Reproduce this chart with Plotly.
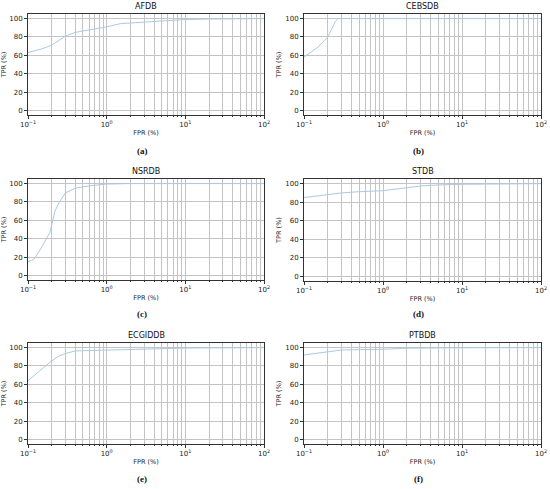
import plotly.graph_objects as go

# ROC curves (FPR %, TPR %)
afdb_fpr = [0.1, 0.15, 0.2, 0.3, 0.4, 0.6, 1, 1.5, 3, 5, 10, 20, 100]
afdb_tpr = [63, 67, 71, 81, 85, 87.5, 91, 94.5, 96.4, 97.8, 99, 99.5, 100]

cebsdb_fpr = [0.1, 0.15, 0.2, 0.22, 0.25, 0.27, 100]
cebsdb_tpr = [58, 69, 80, 88, 97, 100, 100]

nsrdb_fpr = [0.1, 0.11, 0.12, 0.15, 0.19, 0.2, 0.22, 0.25, 0.3, 0.4, 0.6, 1, 2, 100]
nsrdb_tpr = [15, 16, 18, 31, 47, 56, 70, 80, 90, 95, 97.5, 99.5, 100, 100]

stdb_fpr = [0.1, 0.2, 0.3, 0.5, 1, 2, 3, 5, 10, 100]
stdb_tpr = [85, 88, 90, 91.3, 92.4, 95.6, 97.5, 98.6, 99.3, 100]

ecgiddb_fpr = [0.1, 0.2, 0.25, 0.3, 0.4, 1, 3, 7, 10, 100]
ecgiddb_tpr = [64, 85.5, 91, 93.5, 96.4, 97.4, 98.2, 99.3, 99.5, 100]

ptbdb_fpr = [0.1, 0.2, 0.3, 1, 2, 10, 100]
ptbdb_tpr = [92, 95.6, 97.4, 98.2, 99.3, 99.8, 100]

names = ["AFDB", "CEBSDB", "NSRDB", "STDB", "ECGIDDB", "PTBDB"]
letters = ["(a)", "(b)", "(c)", "(d)", "(e)", "(f)"]
curves = [(afdb_fpr, afdb_tpr), (cebsdb_fpr, cebsdb_tpr), (nsrdb_fpr, nsrdb_tpr),
          (stdb_fpr, stdb_tpr), (ecgiddb_fpr, ecgiddb_tpr), (ptbdb_fpr, ptbdb_tpr)]

W, H = 550, 489
# pixel boxes (left, right, top, bottom) of each axes
boxes = [(28, 264, 14, 115), (304, 541, 14, 115),
         (28, 264, 179, 280), (304, 541, 179, 281),
         (28, 264, 343, 444), (304, 541, 343, 444)]
letter_y = [151, 151, 314, 314, 479, 479]

minor_vals = [m * 10 ** e for e in (-1, 0, 1) for m in range(2, 10)]
grid_c = "#c4c4c4"
axis_c = "#333333"
font = "DejaVu Sans"


def px(v):
    return v / W


def py(v):
    return 1 - v / H


fig = go.Figure()
annotations = []
for i, ((fx, ty), (l, r, t, b)) in enumerate(zip(curves, boxes)):
    n = "" if i == 0 else str(i + 1)
    fig.add_trace(go.Scatter(x=fx, y=ty, mode="lines", xaxis="x" + n, yaxis="y" + n,
                             line=dict(color="#a9cbe0", width=1), showlegend=False,
                             hoverinfo="skip"))
    fig.update_layout(**{
        "xaxis" + n: dict(
            type="log", domain=[px(l), px(r)], range=[-1, 2], anchor="y" + n, automargin=False,
            tickvals=[0.1, 1, 10, 100],
            ticktext=["10<sup>−1</sup>", "10<sup>0</sup>", "10<sup>1</sup>", "10<sup>2</sup>"],
            ticks="outside", ticklen=3, tickcolor=axis_c, tickwidth=0.8,
            showgrid=True, gridcolor=grid_c, gridwidth=0.8,
            minor=dict(tickvals=minor_vals, ticks="outside", ticklen=1.5,
                       tickcolor=axis_c, showgrid=True, gridcolor=grid_c, gridwidth=0.8),
            showline=True, mirror=True, linecolor=axis_c, linewidth=0.8,
            tickfont=dict(size=7, color="#222222", family=font),
            title=dict(text="FPR (%)", font=dict(size=6.5, color="#222222", family=font),
                       standoff=2),
            zeroline=False, fixedrange=True),
        "yaxis" + n: dict(
            domain=[py(b), py(t)], range=[-5, 105], anchor="x" + n, automargin=False,
            tickvals=[0, 20, 40, 60, 80, 100],
            ticks="outside", ticklen=3, tickcolor=axis_c, tickwidth=0.8,
            showgrid=True, gridcolor=grid_c, gridwidth=0.8,
            showline=True, mirror=True, linecolor=axis_c, linewidth=0.8,
            tickfont=dict(size=7, color="#222222", family=font),
            title=dict(text="TPR (%)", font=dict(size=6.5, color="#222222", family=font),
                       standoff=3),
            zeroline=False, fixedrange=True),
    })
    cx = px((l + r) / 2)
    annotations.append(dict(text=names[i], x=cx, y=py(t - 1), xref="paper", yref="paper",
                            xanchor="center", yanchor="bottom", showarrow=False,
                            font=dict(size=8, color="#111111", family=font)))
    annotations.append(dict(text="<b>" + letters[i] + "</b>", x=px((l + r) / 2 - 4),
                            y=py(letter_y[i]), xref="paper", yref="paper",
                            xanchor="center", yanchor="middle", showarrow=False,
                            font=dict(size=9, color="#111111", family="Liberation Serif")))

fig.update_layout(width=W, height=H, margin=dict(l=0, r=0, t=0, b=0),
                  paper_bgcolor="white", plot_bgcolor="white", annotations=annotations)

# drop the page's default body margin so the figure fills the window
fig.write_html("out.html", config={"displayModeBar": False},
               post_script="document.body.style.margin='0';")
